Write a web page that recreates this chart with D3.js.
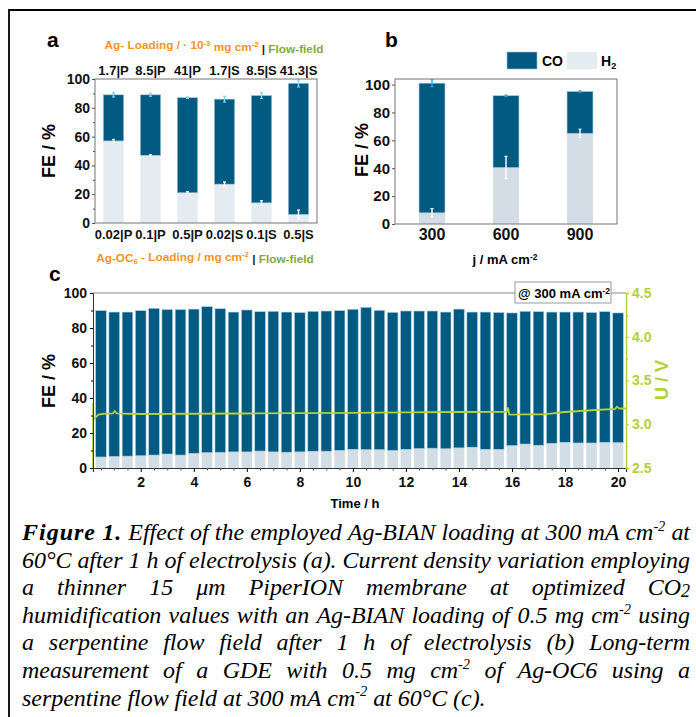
<!DOCTYPE html>
<html>
<head>
<meta charset="utf-8">
<script src="https://cdn.jsdelivr.net/npm/d3@7"></script>
<style>
  body { margin: 0; background: #fff; }
</style>
</head>
<body>
<svg id="chart" width="696" height="717"></svg>
<script>
// ---- data, panel a (Ag loading | flow field) ----
var aTopLabels = ["1.7|P", "8.5|P", "41|P", "1.7|S", "8.5|S", "41.3|S"];
var aLabels    = ["0.02|P", "0.1|P", "0.5|P", "0.02|S", "0.1|S", "0.5|S"];
var aH2        = [57, 47, 21, 27, 14, 6];
var aCO        = [32, 42, 66, 59, 74.5, 91];
var aErrTotal  = [1.5, 1, 0.5, 2, 2, 2.5];
var aErrH2     = [1, 0.5, 0.7, 1.5, 1.5, 3];

// ---- data, panel b (current density) ----
var bLabels    = ["300", "600", "900"];
var bH2        = [8, 40.5, 65];
var bCO        = [93, 51.5, 30];
var bErrTotal  = [2.5, 0.5, 0.5];
var bErrH2     = [3, 8, 3];

// ---- data, panel c (long-term run) ----
var cTime = [0.5, 1, 1.5, 2, 2.5, 3, 3.5, 4, 4.5, 5, 5.5, 6, 6.5, 7, 7.5, 8, 8.5, 9, 9.5, 10,
             10.5, 11, 11.5, 12, 12.5, 13, 13.5, 14, 14.5, 15, 15.5, 16, 16.5, 17, 17.5, 18, 18.5, 19, 19.5, 20];
var cH2 = [6.3, 6.6, 6.8, 7.0, 7.4, 8.0, 7.4, 8.4, 8.8, 9.0, 9.2, 9.2, 9.7, 9.2, 9.0, 9.2, 9.6, 9.6, 10.1, 10.7,
           10.5, 10.5, 10.1, 10.7, 11.1, 11.3, 11.0, 11.5, 11.9, 10.7, 10.7, 12.8, 13.7, 13.0, 14.1, 14.7, 14.3, 14.3, 14.7, 14.5];
var cCO = [83.6, 82.5, 82.3, 82.9, 83.8, 82.5, 83.1, 82.4, 83.4, 82.0, 79.9, 81.1, 79.6, 80.3, 80.1, 79.6, 79.9, 80.1, 79.8, 80.0,
           81.3, 79.6, 78.8, 79.0, 78.6, 78.4, 78.1, 79.3, 77.2, 78.4, 78.1, 75.8, 75.8, 76.3, 75.0, 74.4, 74.8, 74.5, 74.6, 74.1];
var uTime = [0.2, 0.2, 0.22, 0.3, 0.4, 0.6, 0.95, 1.02, 1.1, 1.5, 2, 4, 6, 8, 10, 12, 14, 15.8, 15.85, 15.9, 16.5, 17.2, 18, 19, 19.9, 19.95, 20.05, 20.3];
var uVolt = [2.5, 3.24, 3.05, 3.08, 3.11, 3.12, 3.125, 3.15, 3.125, 3.12, 3.117, 3.12, 3.123, 3.127, 3.13, 3.135, 3.14, 3.143, 3.19, 3.11, 3.112, 3.112, 3.14, 3.16, 3.175, 3.2, 3.18, 3.18];

// caption lines ([b] = bold word, ^ = superscript, _ = subscript)
var captionLines = [
  "[b]Figure [b]1. Effect of the employed Ag-BIAN loading at 300 mA cm^-2 at",
  "60°C after 1 h of electrolysis (a). Current density variation employing",
  "a thinner 15 μm PiperION membrane at optimized CO_2",
  "humidification values with an Ag-BIAN loading of 0.5 mg cm^-2 using",
  "a serpentine flow field after 1 h of electrolysis (b) Long-term",
  "measurement of a GDE with 0.5 mg cm^-2 of Ag-OC6 using a",
  "serpentine flow field at 300 mA cm^-2 at 60°C (c)."
];

var FONT = "'Liberation Sans', Arial, sans-serif";
var SERIF = "'Liberation Serif', 'Times New Roman', serif";
var DARK = "#015a81", LIGHT_A = "#e4ecf1", LIGHT = "#d2dde5";
var GREEN = "#b3d235", ORANGE = "#f7931e", OLIVE = "#86a83a", FRAME = "#8a8a8a";

var svg = d3.select("#chart").style("font-family", FONT).style("font-weight", "bold");

// writes text made of plain / sup / sub parts
function rich(sel, parts) {
  parts.forEach(function(p) {
    var t = sel.append("tspan").text(p.t);
    if (p.fill) t.attr("fill", p.fill);
    if (p.sup) t.attr("dy", "-0.45em").attr("font-size", "0.65em");
    if (p.sub) t.attr("dy", "0.3em").attr("font-size", "0.65em");
    if (p.back) t.attr("dy", p.back);
  });
  return sel;
}

// outer frame (left + top)
svg.append("path").attr("d", "M9,717V10H696")
  .attr("fill", "none").attr("stroke", "#000").attr("stroke-width", 1.8);

function panelLetter(x, y, s) {
  svg.append("text").attr("x", x).attr("y", y).attr("font-size", 21).text(s);
}
panelLetter(47, 47, "a");
panelLetter(385, 47, "b");
panelLetter(49, 281, "c");

function errBar(g, x, yTop, yBot, color) {
  g.append("line").attr("x1", x).attr("x2", x).attr("y1", yTop).attr("y2", yBot)
    .attr("stroke", color).attr("stroke-width", 1.4);
  [yTop, yBot].forEach(function(yy) {
    g.append("line").attr("x1", x - 1.5).attr("x2", x + 1.5).attr("y1", yy).attr("y2", yy)
      .attr("stroke", color).attr("stroke-width", 1.2);
  });
}

function stackedBars(g, xs, ys, labels, h2, co, eTot, eH2, light, errTop) {
  var bw = xs.bandwidth();
  labels.forEach(function(c, i) {
    var x0 = xs(c);
    g.append("rect").attr("x", x0).attr("width", bw)
      .attr("y", ys(h2[i])).attr("height", ys(0) - ys(h2[i])).attr("fill", light);
    g.append("rect").attr("x", x0).attr("width", bw)
      .attr("y", ys(h2[i] + co[i])).attr("height", ys(h2[i]) - ys(h2[i] + co[i]))
      .attr("fill", DARK).attr("stroke", "#9cc3d6").attr("stroke-width", 0.6);
    var cx = x0 + bw / 2, tot = h2[i] + co[i];
    errBar(g, cx, ys(tot + eTot[i]), ys(tot - eTot[i]), errTop);
    errBar(g, cx, ys(h2[i] + eH2[i]), ys(h2[i] - eH2[i]), "#ffffff");
  });
}

function yAxisLeft(g, ys, x, major, minor, fs) {
  var ax = g.append("g").attr("transform", "translate(" + x + ",0)")
    .call(d3.axisLeft(ys).tickValues(major).tickSize(3).tickPadding(2));
  ax.select(".domain").remove();
  ax.selectAll("text").attr("font-size", fs).attr("font-family", FONT).attr("font-weight", "bold").attr("fill", "#111");
  ax.selectAll("line").attr("stroke", "#555");
  if (minor) {
    var mn = g.append("g").attr("transform", "translate(" + x + ",0)")
      .call(d3.axisLeft(ys).tickValues(minor).tickSize(2).tickFormat(""));
    mn.select(".domain").remove();
    mn.selectAll("line").attr("stroke", "#555");
  }
}

// ================= panel a =================
var ga = svg.append("g");
var axA = d3.scaleBand().domain(aLabels).range([95, 317]).paddingInner(0.45).paddingOuter(0.225);
var ayA = d3.scaleLinear().domain([0, 100]).range([223, 79]);
stackedBars(ga, axA, ayA, aLabels, aH2, aCO, aErrTotal, aErrH2, LIGHT_A, "#7fd3f5");
ga.append("rect").attr("x", 95).attr("y", 79).attr("width", 222).attr("height", 144)
  .attr("fill", "none").attr("stroke", FRAME).attr("stroke-width", 1.2);
yAxisLeft(ga, ayA, 95, [0, 20, 40, 60, 80, 100], [10, 30, 50, 70, 90], 14);

var xbA = ga.append("g").attr("transform", "translate(0,223)")
  .call(d3.axisBottom(axA).tickSize(0).tickPadding(7));
xbA.select(".domain").remove();
xbA.selectAll("text").attr("font-size", 13).attr("font-family", FONT).attr("font-weight", "bold").attr("fill", "#111");

var xtA = ga.append("g").attr("transform", "translate(0,79)")
  .call(d3.axisTop(axA).tickSize(0).tickPadding(4).tickFormat(function(d, i) { return aTopLabels[i]; }));
xtA.select(".domain").remove();
xtA.selectAll("text").attr("font-size", 13).attr("font-family", FONT).attr("font-weight", "bold").attr("fill", "#111");

rich(ga.append("text").attr("x", 214).attr("y", 49).attr("text-anchor", "middle").attr("font-size", 11.8), [
  { t: "Ag- Loading / · 10", fill: ORANGE }, { t: "-3", fill: ORANGE, sup: true },
  { t: " mg cm", fill: ORANGE, back: "0.45em" }, { t: "-2", fill: ORANGE, sup: true },
  { t: " | ", fill: "#222", back: "0.45em" }, { t: "Flow-field", fill: OLIVE }
]);
rich(ga.append("text").attr("x", 205).attr("y", 262).attr("text-anchor", "middle").attr("font-size", 11.8), [
  { t: "Ag-OC", fill: ORANGE }, { t: "6", fill: ORANGE, sub: true },
  { t: " - Loading / mg cm", fill: ORANGE, back: "-0.3em" }, { t: "-2", fill: ORANGE, sup: true },
  { t: " | ", fill: "#222", back: "0.45em" }, { t: "Flow-field", fill: OLIVE }
]);
ga.append("text").attr("transform", "translate(55,151) rotate(-90)").attr("text-anchor", "middle")
  .attr("font-size", 18).text("FE / %");

// ================= panel b =================
var gb = svg.append("g");
var axB = d3.scaleBand().domain(bLabels).range([395, 617]).paddingInner(0.65).paddingOuter(0.325);
var ayB = d3.scaleLinear().domain([0, 104]).range([224, 79]);
stackedBars(gb, axB, ayB, bLabels, bH2, bCO, bErrTotal, bErrH2, LIGHT, "#2aa9e0");
gb.append("rect").attr("x", 395).attr("y", 79).attr("width", 222).attr("height", 145)
  .attr("fill", "none").attr("stroke", FRAME).attr("stroke-width", 1.2);
yAxisLeft(gb, ayB, 395, [0, 20, 40, 60, 80, 100], null, 15);

var xbB = gb.append("g").attr("transform", "translate(0,224)")
  .call(d3.axisBottom(axB).tickSize(0).tickPadding(5));
xbB.select(".domain").remove();
xbB.selectAll("text").attr("font-size", 16).attr("font-family", FONT).attr("font-weight", "bold").attr("fill", "#111");

rich(gb.append("text").attr("x", 505).attr("y", 264).attr("text-anchor", "middle").attr("font-size", 13), [
  { t: "j / mA cm" }, { t: "-2", sup: true }
]);
gb.append("text").attr("transform", "translate(368,150) rotate(-90)").attr("text-anchor", "middle")
  .attr("font-size", 18).text("FE / %");

// legend
gb.append("rect").attr("x", 507).attr("y", 52).attr("width", 30).attr("height", 17)
  .attr("fill", DARK).attr("stroke", "#9cc3d6").attr("stroke-width", 0.6);
gb.append("text").attr("x", 542).attr("y", 66).attr("font-size", 14).text("CO");
gb.append("rect").attr("x", 567).attr("y", 52).attr("width", 30).attr("height", 17).attr("fill", LIGHT_A);
rich(gb.append("text").attr("x", 601).attr("y", 66).attr("font-size", 14), [
  { t: "H" }, { t: "2", sub: true }
]);

// ================= panel c =================
var gc = svg.append("g");
var xC = d3.scaleLinear().domain([0.2, 20.3]).range([93, 626]);
var yC = d3.scaleLinear().domain([0, 100]).range([468, 293]);
var uC = d3.scaleLinear().domain([2.5, 4.5]).range([468, 293]);
var bwC = xC(0.4) - xC(0);

cTime.forEach(function(t, i) {
  gc.append("rect").attr("x", xC(t) - bwC / 2).attr("width", bwC)
    .attr("y", yC(cH2[i])).attr("height", yC(0) - yC(cH2[i])).attr("fill", LIGHT);
  gc.append("rect").attr("x", xC(t) - bwC / 2).attr("width", bwC)
    .attr("y", yC(cH2[i] + cCO[i])).attr("height", yC(cH2[i]) - yC(cH2[i] + cCO[i]))
    .attr("fill", DARK).attr("stroke", "#a9cbdc").attr("stroke-width", 0.6);
});

gc.append("line").attr("x1", 93).attr("x2", 626).attr("y1", 293).attr("y2", 293)
  .attr("stroke", FRAME).attr("stroke-width", 1.2);

var lineU = d3.line().x(function(d) { return xC(d[0]); }).y(function(d) { return uC(d[1]); });
gc.append("path").datum(uTime.map(function(t, i) { return [t, uVolt[i]]; }))
  .attr("d", lineU).attr("fill", "none").attr("stroke", GREEN).attr("stroke-width", 1.8);

// left axis
var lc = gc.append("g").attr("transform", "translate(93,0)")
  .call(d3.axisLeft(yC).tickValues([0, 20, 40, 60, 80, 100]).tickSize(3).tickPadding(3));
lc.select(".domain").attr("stroke", "#333");
lc.selectAll("text").attr("font-size", 14).attr("font-family", FONT).attr("font-weight", "bold").attr("fill", "#111");
var lcm = gc.append("g").attr("transform", "translate(93,0)")
  .call(d3.axisLeft(yC).tickValues([10, 30, 50, 70, 90]).tickSize(2).tickFormat(""));
lcm.select(".domain").remove();

// bottom axis
var bc = gc.append("g").attr("transform", "translate(0,468)")
  .call(d3.axisBottom(xC).tickValues([2, 4, 6, 8, 10, 12, 14, 16, 18, 20]).tickSize(4).tickPadding(5));
bc.select(".domain").attr("stroke", "#333").attr("stroke-width", 1.2);
bc.selectAll("text").attr("font-size", 14).attr("font-family", FONT).attr("font-weight", "bold").attr("fill", "#111");
var minorT = [0.5, 1, 1.5, 2.5, 3, 3.5, 4.5, 5, 5.5, 6.5, 7, 7.5, 8.5, 9, 9.5, 10.5, 11, 11.5, 12.5, 13, 13.5,
              14.5, 15, 15.5, 16.5, 17, 17.5, 18.5, 19, 19.5];
var bcm = gc.append("g").attr("transform", "translate(0,468)")
  .call(d3.axisBottom(xC).tickValues(minorT).tickSize(2.5).tickFormat(""));
bcm.select(".domain").remove();
bcm.selectAll("line").attr("stroke", "#555");

// right axis (voltage)
var rc = gc.append("g").attr("transform", "translate(626,0)")
  .call(d3.axisRight(uC).tickValues([2.5, 3.0, 3.5, 4.0, 4.5]).tickFormat(d3.format(".1f")).tickSize(3).tickPadding(3));
rc.select(".domain").attr("stroke", GREEN).attr("stroke-width", 1.5);
rc.selectAll("line").attr("stroke", GREEN);
rc.selectAll("text").attr("font-size", 14).attr("font-family", FONT).attr("font-weight", "bold").attr("fill", GREEN);
var rcm = gc.append("g").attr("transform", "translate(626,0)")
  .call(d3.axisRight(uC).tickValues([2.75, 3.25, 3.75, 4.25]).tickSize(2).tickFormat(""));
rcm.select(".domain").remove();
rcm.selectAll("line").attr("stroke", GREEN);

gc.append("text").attr("transform", "translate(55,381) rotate(-90)").attr("text-anchor", "middle")
  .attr("font-size", 18).text("FE / %");
gc.append("text").attr("transform", "translate(668,380) rotate(-90)").attr("text-anchor", "middle")
  .attr("font-size", 18).attr("fill", GREEN).text("U / V");
gc.append("text").attr("x", 355).attr("y", 508).attr("text-anchor", "middle").attr("font-size", 13).text("Time / h");

// inset label
gc.append("rect").attr("x", 515).attr("y", 282).attr("width", 96).attr("height", 21)
  .attr("fill", "#fff").attr("stroke", "#999").attr("stroke-width", 1);
rich(gc.append("text").attr("x", 518).attr("y", 297.5).attr("font-size", 13), [
  { t: "@ 300 mA cm" }, { t: "-2", sup: true }
]);

// ================= caption (serif italic, justified, tight tracking) =================
var CAP_X = 22, CAP_W = 668, CAP_Y = 540, CAP_LH = 27.6, CAP_FS = 24;
var gcap = svg.append("g").attr("font-family", SERIF).attr("font-style", "italic")
  .attr("font-weight", "normal").attr("font-size", CAP_FS).attr("fill", "#000");

function makeWord(word) {
  var bold = word.indexOf("[b]") === 0;
  if (bold) word = word.slice(3);
  var t = gcap.append("text").attr("font-weight", bold ? "bold" : "normal");
  var parts = word.split(/(\^-?\d+|_\d+)/).filter(function(s) { return s.length; });
  var shifted = 0, n = 0;
  parts.forEach(function(p) {
    var ts = t.append("tspan");
    if (p[0] === "^") {
      ts.text(p.slice(1)).attr("font-size", CAP_FS * 0.6).attr("dy", -CAP_FS * 0.38);
      shifted = -CAP_FS * 0.38; n += p.length - 1;
    } else if (p[0] === "_") {
      ts.text(p.slice(1)).attr("font-size", CAP_FS * 0.75).attr("dy", CAP_FS * 0.06);
      shifted = CAP_FS * 0.06; n += p.length - 1;
    } else {
      ts.text(p); n += p.length;
      if (shifted) { ts.attr("dy", -shifted); shifted = 0; }
    }
  });
  return { el: t, bold: bold, n: n, w: t.node().getComputedTextLength() };
}

var capWords = captionLines.map(function(line) {
  return line.split(" ").map(makeWord);
});
var spaceW = CAP_FS * 0.25;
// tracking taken from the second line, which is set without extra word spacing
var ref = capWords[1];
var track = (CAP_W - d3.sum(ref, function(w) { return w.w; }) - spaceW * (ref.length - 1)) /
            d3.sum(ref, function(w) { return w.n; });
track = Math.min(track, 0);
capWords.forEach(function(words) {
  words.forEach(function(w) {
    var ls = w.bold ? 1 : track;
    w.el.attr("letter-spacing", ls);
    w.w = w.el.node().getComputedTextLength();
  });
});

capWords.forEach(function(words, li) {
  var last = li === capWords.length - 1;
  var total = d3.sum(words, function(w) { return w.w; });
  var gap = last ? spaceW : Math.max(3, (CAP_W - total) / (words.length - 1));
  var x = CAP_X, y = CAP_Y + li * CAP_LH;
  words.forEach(function(w) {
    w.el.attr("x", x).attr("y", y);
    x += w.w + gap;
  });
});
</script>
</body>
</html>
